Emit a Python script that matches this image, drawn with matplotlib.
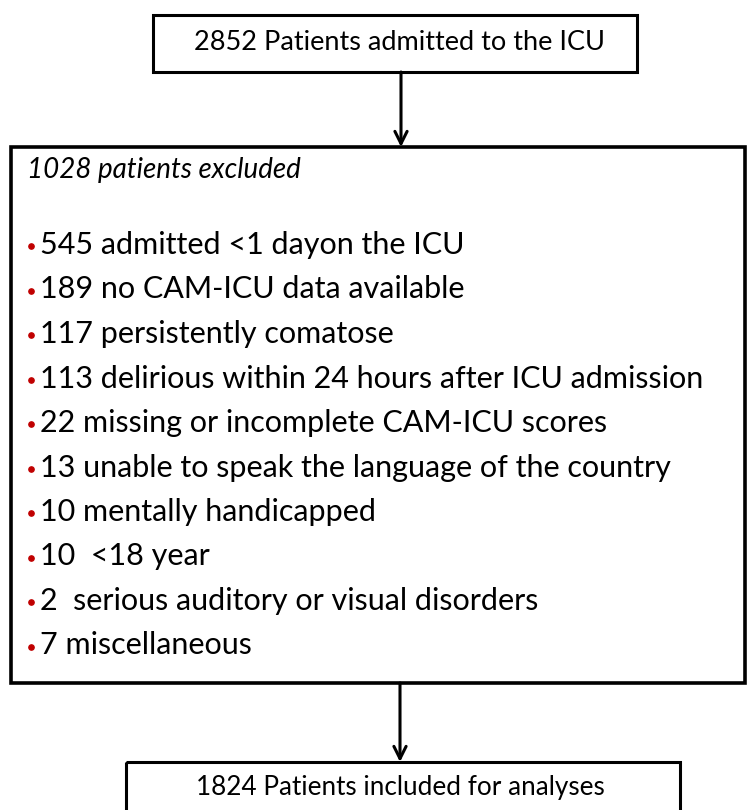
import matplotlib.pyplot as plt
from matplotlib.patches import Rectangle

# flowchart content
admitted_n = 2852
excluded_n = 1028
included_n = 1824
excl_counts = [545, 189, 117, 113, 22, 13, 10, 10, 2, 7]
excl_reasons = [
    "admitted <1 dayon the ICU",
    "no CAM-ICU data available",
    "persistently comatose",
    "delirious within 24 hours after ICU admission",
    "missing or incomplete CAM-ICU scores",
    "unable to speak the language of the country",
    "mentally handicapped",
    " <18 year",
    " serious auditory or visual disorders",
    "miscellaneous",
]

W, H = 747, 810
fig = plt.figure(figsize=(W / 100, H / 100), dpi=100, facecolor='white')
ax = fig.add_axes([0, 0, 1, 1])
ax.set_xlim(0, W)
ax.set_ylim(H, 0)
ax.axis('off')

font = ['Lato', 'DejaVu Sans']

def box(x0, y0, x1, y1, lw=2.2):
    ax.add_patch(Rectangle((x0, y0), x1 - x0, y1 - y0, fill=False,
                           edgecolor='black', linewidth=lw))

def arrow(x, y0, y1):
    ax.annotate('', xy=(x, y1), xytext=(x, y0),
                arrowprops=dict(arrowstyle='->', color='black', lw=2.2,
                                mutation_scale=22, shrinkA=0, shrinkB=0))

# top box
box(153, 15, 637, 72)
ax.text(399, 43, f"{admitted_n} Patients admitted to the ICU", fontsize=19.5,
        family=font, ha='center', va='center')
arrow(401, 72, 147)

# exclusion box
box(11, 147, 745, 683, lw=2.6)
ax.text(27, 170, f"{excluded_n} patients excluded", fontsize=20, family=font,
        style='italic', ha='left', va='center')
y0, dy = 245, 44.5
for i, (n, r) in enumerate(zip(excl_counts, excl_reasons)):
    y = y0 + i * dy
    ax.plot(31, y + 1, marker='o', markersize=3.8, color='#c00000', linestyle='none')
    ax.text(40, y, f"{n} {r}", fontsize=22, family=font, ha='left', va='center')

arrow(400, 683, 762)

# bottom box
box(126, 762, 680, 812)
ax.text(400, 787, f"{included_n} Patients included for analyses", fontsize=18.8,
        family=font, ha='center', va='center')

fig.savefig('out.png', dpi=100, facecolor='white')
